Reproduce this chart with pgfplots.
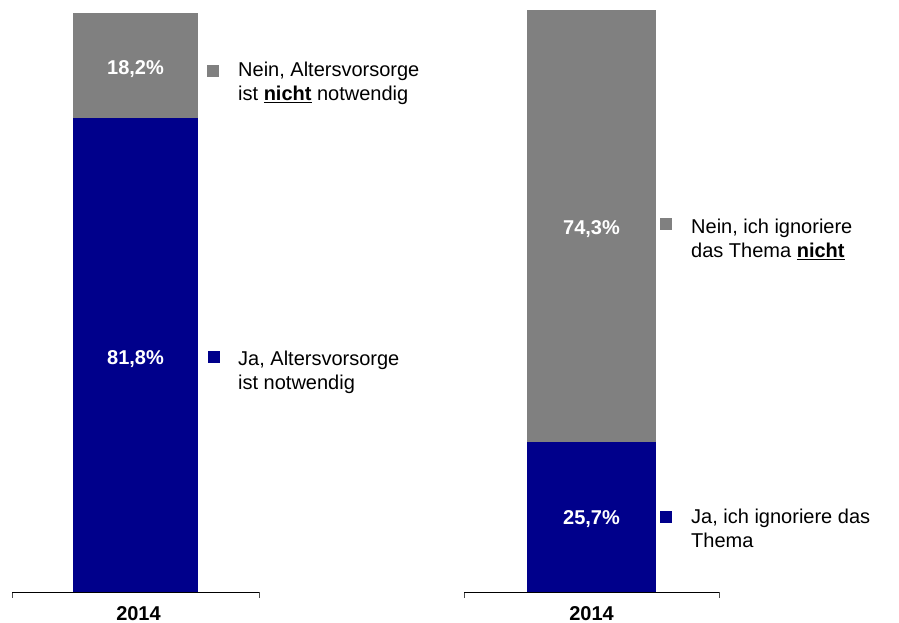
\documentclass[border=0pt]{standalone}
\usepackage{pgfplots}
\pgfplotsset{compat=1.18}
\usepackage{fontspec}
\setmainfont{Liberation Sans}
\definecolor{navyc}{RGB}{0,0,139}
\definecolor{grayc}{RGB}{128,128,128}
\newcommand\fs{\fontsize{20bp}{24bp}\selectfont}
\newcommand\ul[1]{\underline{#1}}
\begin{document}
\begin{tikzpicture}
\path[use as bounding box] (0,0) rectangle (899bp,623bp);
\pgfplotsset{mybars/.style={
  ybar stacked, scale only axis, anchor=south west,
  xmin=-1, xmax=1, ymin=0, ymax=100,
  axis x line*=bottom, axis y line=none,
  xtick={0}, xticklabels={2014}, major tick length=0pt,
  minor xtick={-1,1}, minor tick length=6bp, tick align=outside,
  x axis line style={line width=1bp},
  minor tick style={line width=0.8bp, black!70},
  xticklabel style={font=\fs\bfseries, anchor=base, yshift=-28bp},
  clip=false,
  /pgf/number format/assume math mode=true,
}}
\begin{axis}[mybars, at={(12bp,31bp)}, width=247bp, height=579bp, bar width=125bp,
  xticklabel style={xshift=3bp}]
\addplot[fill=navyc, draw=none] coordinates {(0,81.8)};
\addplot[fill=grayc, draw=none] coordinates {(0,18.2)};
\coordinate (LB) at (axis cs:0,40.9);
\coordinate (LG) at (axis cs:0,90.9);
\end{axis}
\begin{axis}[mybars, at={(464bp,31bp)}, width=255bp, height=582bp, bar width=129bp]
\addplot[fill=navyc, draw=none] coordinates {(0,25.7)};
\addplot[fill=grayc, draw=none] coordinates {(0,74.3)};
\coordinate (RB) at (axis cs:0,12.85);
\coordinate (RG) at (axis cs:0,62.85);
\end{axis}
% value labels
\node[text=white, font=\fs\bfseries, anchor=base, yshift=-9bp] at (LB) {81,8\%};
\node[text=white, font=\fs\bfseries, anchor=base, yshift=-9bp] at (LG) {18,2\%};
\node[text=white, font=\fs\bfseries, anchor=base, yshift=-7bp] at (RB) {25,7\%};
\node[text=white, font=\fs\bfseries, anchor=base, yshift=-8bp] at (RG) {74,3\%};
% legend keys and texts
\fill[grayc] (207bp,546bp) rectangle (219bp,558bp);
\node[anchor=base west, inner sep=0pt, font=\fs] at (238bp,546bp) {Nein, Altersvorsorge};
\node[anchor=base west, inner sep=0pt, font=\fs] at (238bp,522bp) {ist \ul{\textbf{nicht}} notwendig};
\fill[navyc] (208bp,260bp) rectangle (220bp,272bp);
\node[anchor=base west, inner sep=0pt, font=\fs] at (238bp,257bp) {Ja, Altersvorsorge};
\node[anchor=base west, inner sep=0pt, font=\fs] at (238bp,233bp) {ist notwendig};
\fill[grayc] (660bp,393bp) rectangle (672bp,405bp);
\node[anchor=base west, inner sep=0pt, font=\fs] at (691bp,389bp) {Nein, ich ignoriere};
\node[anchor=base west, inner sep=0pt, font=\fs] at (691bp,365bp) {das Thema \ul{\textbf{nicht}}};
\fill[navyc] (660bp,100bp) rectangle (672bp,112bp);
\node[anchor=base west, inner sep=0pt, font=\fs] at (691bp,99bp) {Ja, ich ignoriere das};
\node[anchor=base west, inner sep=0pt, font=\fs] at (691bp,75bp) {Thema};
\end{tikzpicture}
\end{document}
